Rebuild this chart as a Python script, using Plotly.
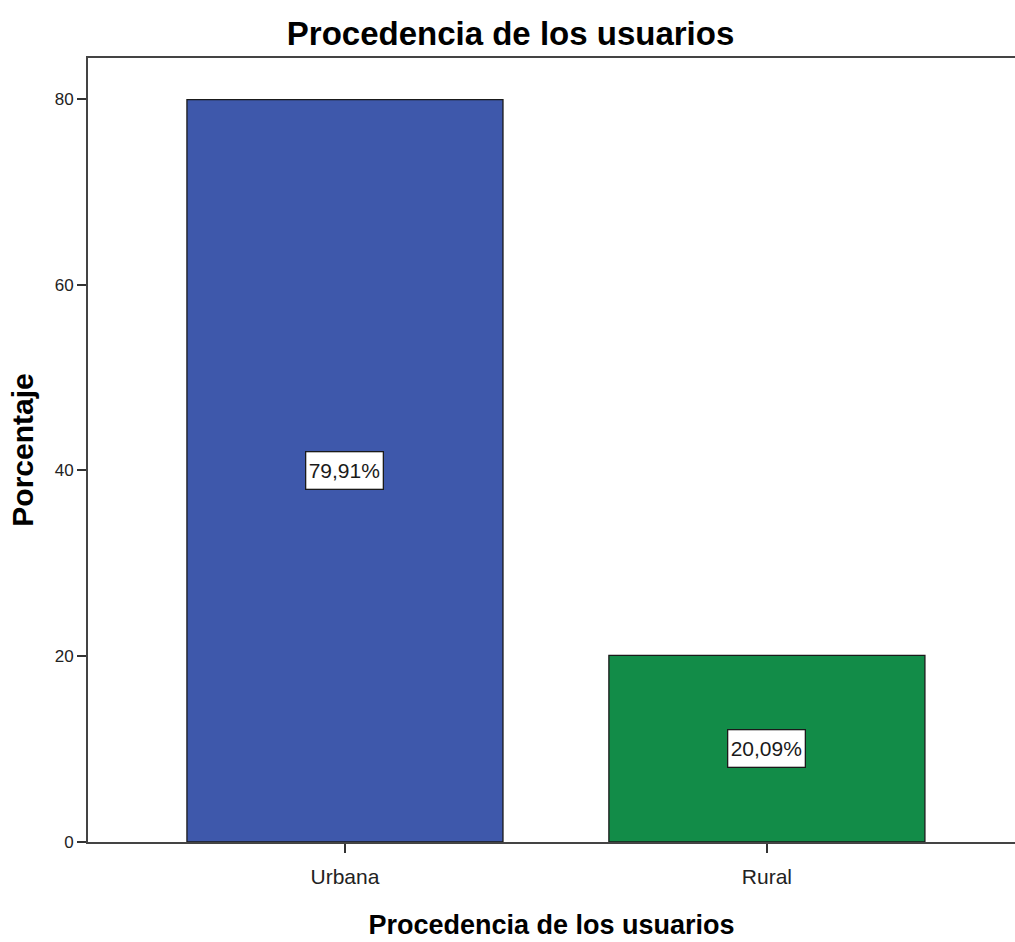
import plotly.graph_objects as go

categories = ["Urbana", "Rural"]
percentages = [79.91, 20.09]
labels = ["79,91%", "20,09%"]
bar_colors = ["#3E58AB", "#128C48"]
y_ticks = [0, 20, 40, 60, 80]

FONT = "Liberation Sans Narrow, Arial Narrow, Liberation Sans, Arial, sans-serif"

fig = go.Figure()
fig.add_trace(go.Bar(
    x=list(range(len(categories))),
    y=percentages,
    width=0.749,
    marker=dict(color=bar_colors, line=dict(color="#1a1a1a", width=1.3)),
    hoverinfo="skip",
))

for i, (v, lab) in enumerate(zip(percentages, labels)):
    fig.add_annotation(
        x=i, y=v / 2, text=lab, showarrow=False,
        font=dict(family=FONT, size=21, color="#1a1a1a"),
        width=74, height=34,
        bgcolor="white", bordercolor="#1a1a1a", borderwidth=1.3, borderpad=1,
    )

fig.update_layout(
    width=1015, height=942,
    margin=dict(l=88, r=0, t=58, b=100),
    plot_bgcolor="white", paper_bgcolor="white",
    showlegend=False,
    title=dict(text="<b>Procedencia de los usuarios</b>", x=0.503, xanchor="center",
               y=0.965, yanchor="middle",
               font=dict(family=FONT, size=33, color="black")),
    font=dict(family=FONT, color="#222"),
)

fig.update_xaxes(
    range=[-0.609, 1.588],
    tickmode="array", tickvals=list(range(len(categories))), ticktext=categories,
    ticks="outside", ticklen=9, tickwidth=1.5, tickcolor="#333",
    ticklabelstandoff=6,
    tickfont=dict(family=FONT, size=21, color="#222"),
    showline=True, linecolor="#444", linewidth=2, mirror=True,
    showgrid=False, zeroline=False,
    title=dict(text="<b>Procedencia de los usuarios</b>", standoff=28,
               font=dict(family=FONT, size=27, color="black")),
)
fig.update_yaxes(
    range=[0, 84.4],
    tickmode="array", tickvals=y_ticks,
    ticks="outside", ticklen=9, tickwidth=1.5, tickcolor="#333",
    tickfont=dict(family=FONT, size=17, color="#222"),
    showline=True, linecolor="#444", linewidth=2,
    showgrid=False, zeroline=False,
    title=dict(text="<b>Porcentaje</b>", standoff=12,
               font=dict(family=FONT, size=30, color="black")),
)

fig.write_html("out.html")
